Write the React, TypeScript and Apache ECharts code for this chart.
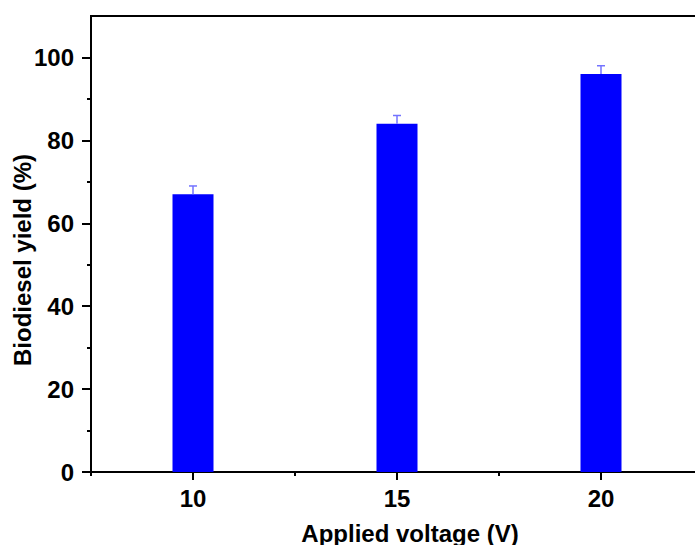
import React, { useEffect, useRef } from "react";
import * as echarts from "echarts";

const voltages = [10, 15, 20];
const yields = [67, 84, 96];
const errors = [2, 2, 2];
const yTickValues = [0, 20, 40, 60, 80, 100];
const yMinorValues = [10, 30, 50, 70, 90];
const xTickValues = [10, 15, 20];
const xMinorValues = [7.5, 12.5, 17.5, 22.5];

const FONT = '"Liberation Sans", Arial, sans-serif';

export default function App() {
  const ref = useRef<HTMLDivElement>(null);
  useEffect(() => {
    if (!ref.current) return;
    const chart = echarts.init(ref.current, null, { renderer: "svg" });
    const barData = voltages.map((v, i) => [v, yields[i]]);
    const errData = voltages.map((v, i) => [v, yields[i], yields[i] + errors[i]]);
    chart.setOption({
      animation: false,
      backgroundColor: "#fff",
      grid: {
        left: 91,
        top: 16,
        width: 612,
        height: 456,
        outerBoundsMode: "none",
        containLabel: false,
        show: true,
        borderColor: "#000",
        borderWidth: 2,
      },
      xAxis: [
        {
          type: "value",
          min: 7.5,
          max: 22.5,
          interval: 2.5,
          splitLine: { show: false },
          axisLine: { show: true, lineStyle: { color: "#000", width: 2 } },
          axisTick: { show: true, customValues: xTickValues, length: 8, lineStyle: { color: "#000", width: 2 } },
          axisLabel: {
            customValues: xTickValues,
            margin: 14,
            color: "#000",
            fontFamily: FONT,
            fontWeight: "bold",
            fontSize: 24,
          },
        },
        {
          type: "value",
          position: "bottom",
          min: 7.5,
          max: 22.5,
          interval: 2.5,
          splitLine: { show: false },
          axisLine: { show: false },
          axisTick: { show: true, customValues: xMinorValues, length: 4, lineStyle: { color: "#000", width: 2 } },
          axisLabel: { show: false },
        },
      ],
      yAxis: [
        {
          type: "value",
          min: 0,
          max: 110,
          interval: 10,
          splitLine: { show: false },
          axisLine: { show: true, lineStyle: { color: "#000", width: 2 } },
          axisTick: { show: true, customValues: yTickValues, length: 9, lineStyle: { color: "#000", width: 2 } },
          axisLabel: {
            customValues: yTickValues,
            margin: 17,
            color: "#000",
            fontFamily: FONT,
            fontWeight: "bold",
            fontSize: 24,
          },
        },
        {
          type: "value",
          position: "left",
          min: 0,
          max: 110,
          interval: 10,
          splitLine: { show: false },
          axisLine: { show: false },
          axisTick: { show: true, customValues: yMinorValues, length: 4, lineStyle: { color: "#000", width: 2 } },
          axisLabel: { show: false },
        },
      ],
      graphic: [
        {
          type: "text",
          x: 410,
          y: 533,
          style: {
            text: "Applied voltage (V)",
            font: `bold 24px ${FONT}`,
            fill: "#000",
            align: "center",
            verticalAlign: "middle",
          },
        },
        {
          type: "text",
          x: 22,
          y: 260,
          rotation: Math.PI / 2,
          style: {
            text: "Biodiesel yield (%)",
            font: `bold 24px ${FONT}`,
            fill: "#000",
            align: "center",
            verticalAlign: "middle",
          },
        },
      ],
      series: [
        {
          type: "bar",
          xAxisIndex: 0,
          yAxisIndex: 0,
          data: barData,
          barWidth: 41,
          itemStyle: { color: "#0000ff" },
          z: 2,
        },
        {
          type: "custom",
          xAxisIndex: 0,
          yAxisIndex: 0,
          data: errData,
          z: 3,
          renderItem: (params: any, api: any) => {
            const x = api.value(0);
            const lo = api.coord([x, api.value(1)]);
            const hi = api.coord([x, api.value(2)]);
            const half = 4;
            const style = { stroke: "#7373ff", lineWidth: 1.5 };
            return {
              type: "group",
              children: [
                { type: "line", shape: { x1: lo[0], y1: lo[1], x2: hi[0], y2: hi[1] }, style },
                { type: "line", shape: { x1: hi[0] - half, y1: hi[1], x2: hi[0] + half, y2: hi[1] }, style },
              ],
            };
          },
        },
      ],
    });
    return () => chart.dispose();
  }, []);
  return (
    <div
      ref={ref}
      style={{ position: "fixed", left: 0, top: 0, width: 695, height: 545 }}
    />
  );
}
